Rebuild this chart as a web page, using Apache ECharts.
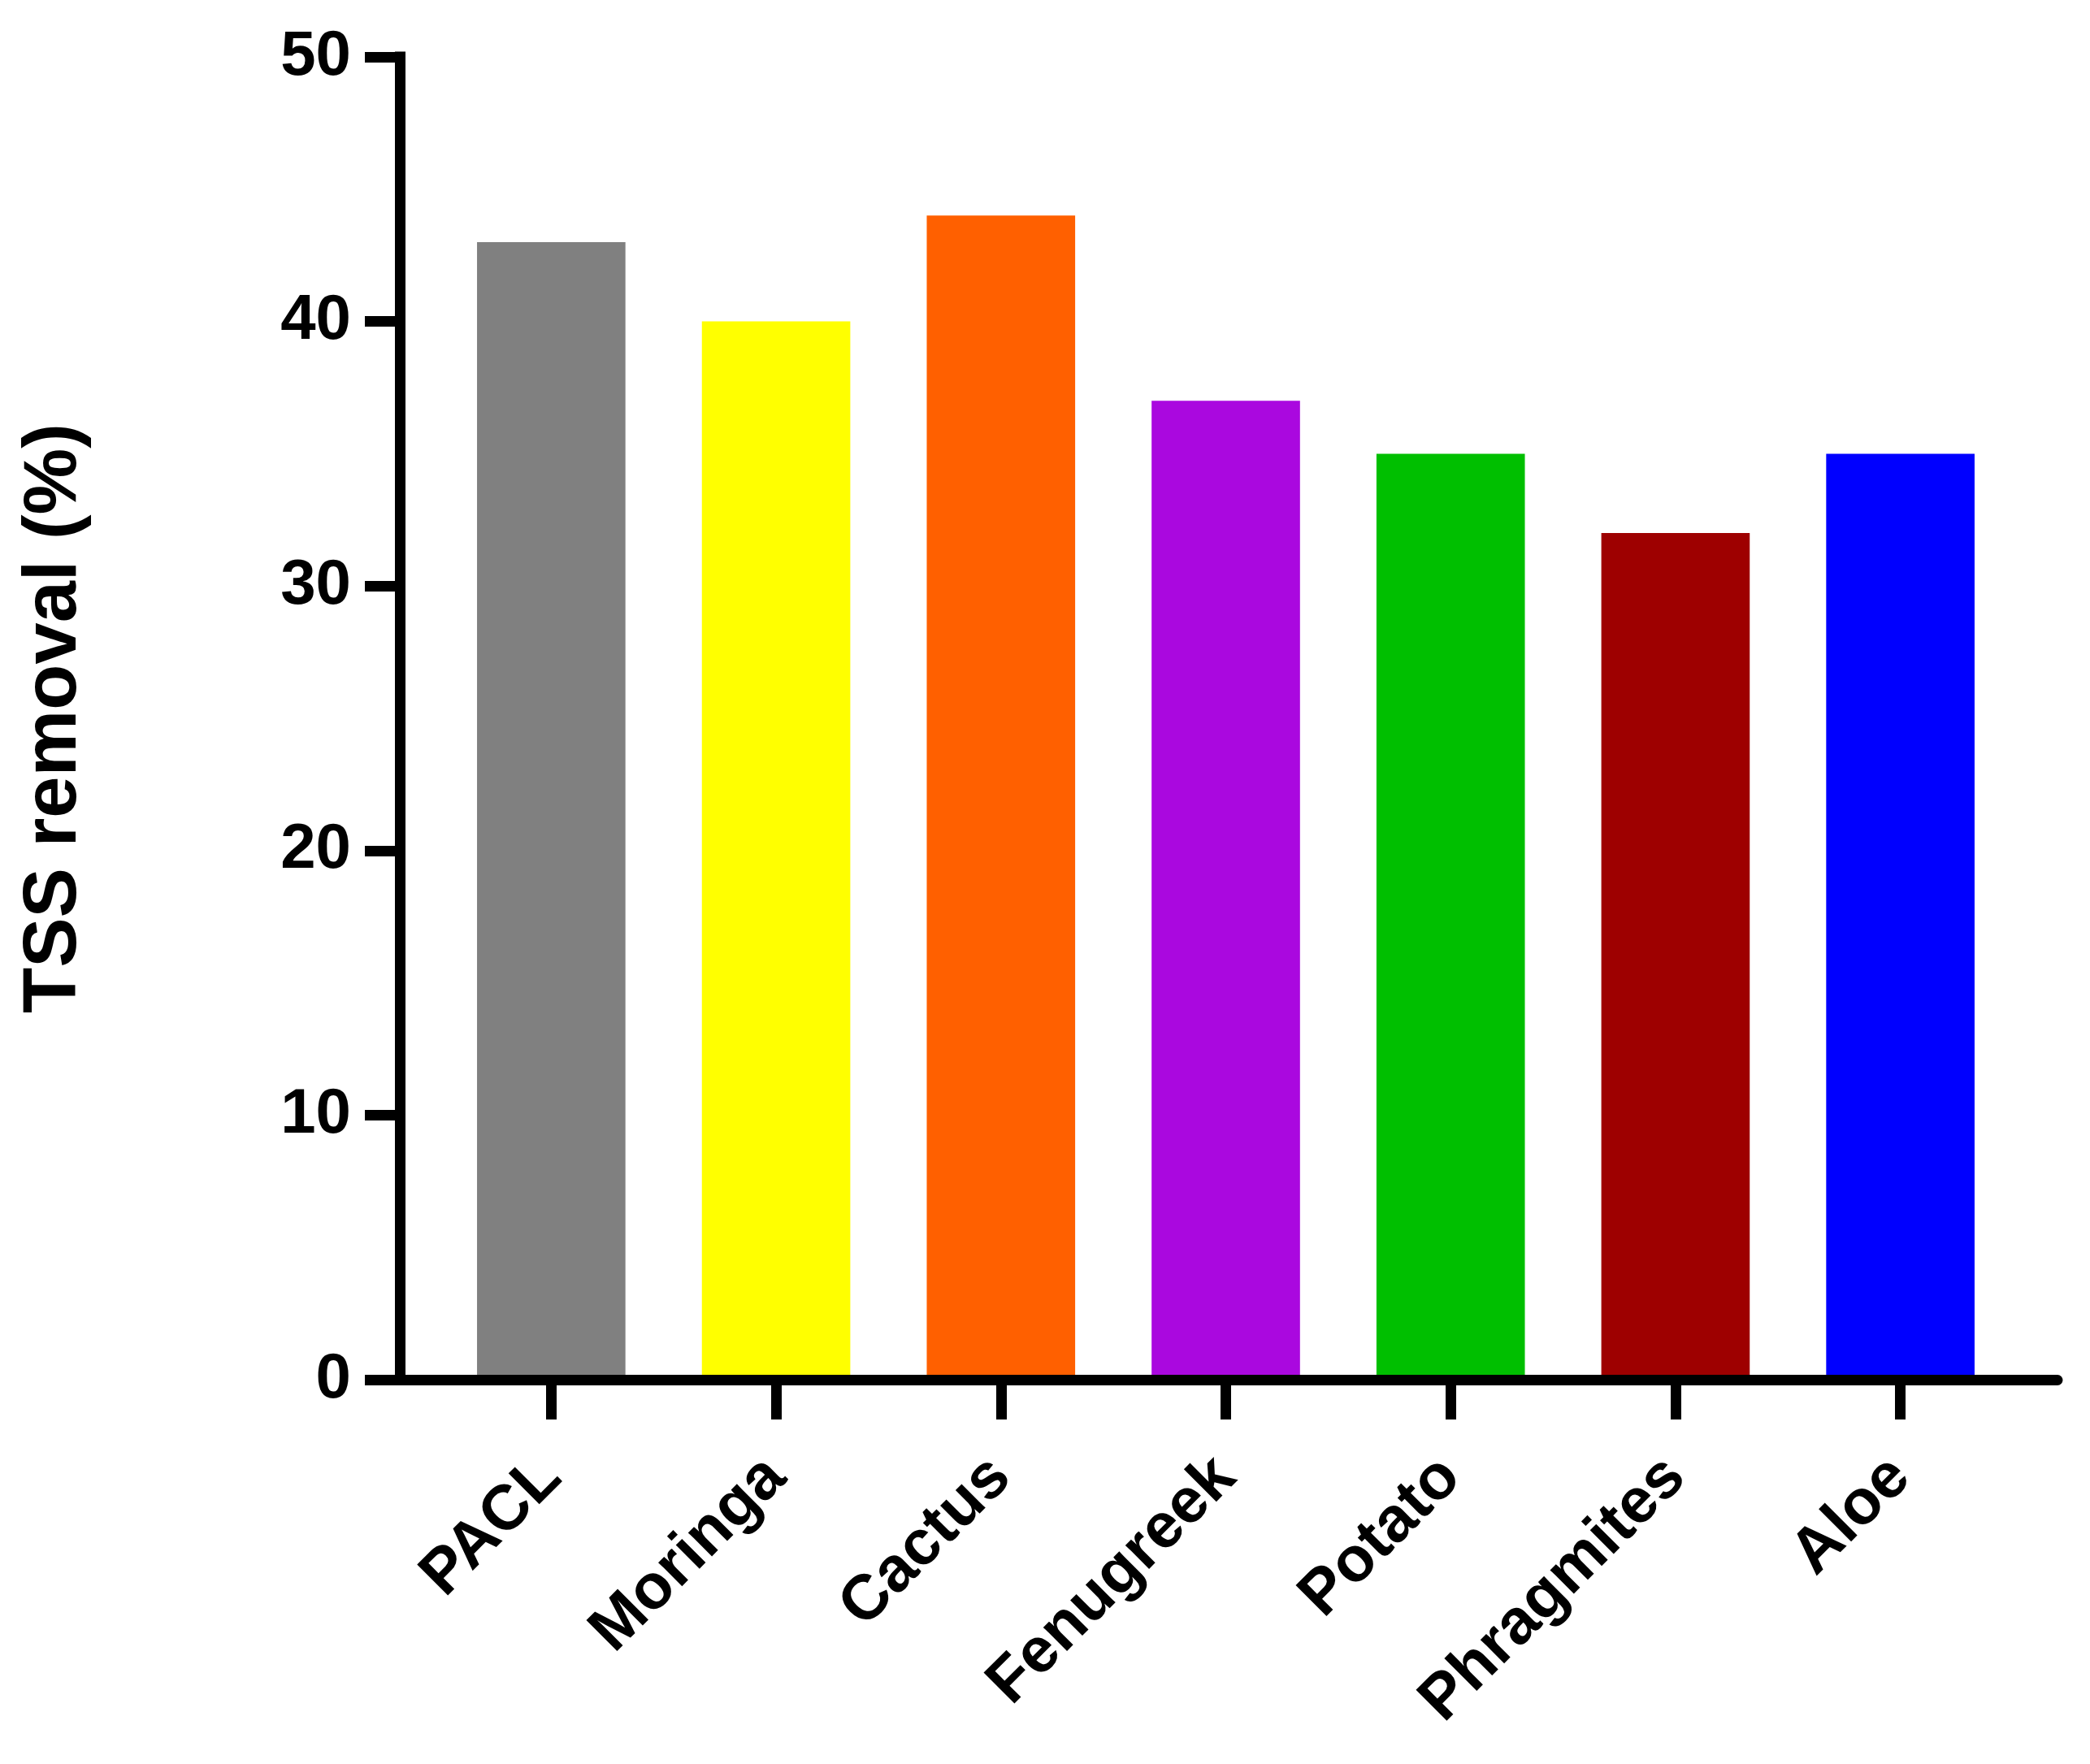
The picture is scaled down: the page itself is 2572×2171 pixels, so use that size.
<!DOCTYPE html>
<html>
<head>
<meta charset="utf-8">
<script src="https://cdn.jsdelivr.net/npm/echarts@6/dist/echarts.min.js"></script>
<style>
  html, body { margin: 0; padding: 0; background: #ffffff; }
  #chart { width: 2572px; height: 2171px; }
</style>
</head>
<body>
<div id="chart"></div>
<script>
const categories = ["PACL", "Moringa", "Cactus", "Fenugreek", "Potato", "Phragmites", "Aloe"];
const tssRemoval = [43, 40, 44, 37, 35, 32, 35];
const barColors = ["#808080", "#FFFF00", "#FF6000", "#AA08DF", "#00BF00", "#9E0000", "#0000FF"];
const yTicks = [0, 10, 20, 30, 40, 50];
const yAxisTitle = "TSS removal (%)";

const FONT = '"Liberation Sans", Arial, Helvetica, sans-serif';
const chart = echarts.init(document.getElementById('chart'), null, { renderer: 'canvas' });

const option = {
  backgroundColor: '#ffffff',
  animation: false,
  grid: [
    { left: 540, width: 1937, top: 70, bottom: 473, containLabel: false, outerBoundsMode: 'none' },
    { left: 492, right: 40, top: 70, bottom: 473, containLabel: false, outerBoundsMode: 'none' }
  ],
  xAxis: [
    {
      gridIndex: 0,
      type: 'category',
      data: categories,
      boundaryGap: true,
      axisLine: { show: false },
      axisTick: { show: true, alignWithLabel: true, length: 49, lineStyle: { color: '#000', width: 13 } },
      axisLabel: {
        rotate: 45, margin: 108, color: '#000',
        fontFamily: FONT, fontWeight: 'bold', fontSize: 78, interval: 0
      },
      splitLine: { show: false },
      z: 5
    },
    {
      gridIndex: 1,
      type: 'value',
      min: 0, max: 1,
      axisLine: { show: true, onZero: false, lineStyle: { color: '#000', width: 13 } },
      axisTick: { show: false },
      axisLabel: { show: false },
      splitLine: { show: false },
      z: 6
    }
  ],
  yAxis: [
    {
      gridIndex: 0,
      type: 'value',
      min: yTicks[0], max: yTicks[yTicks.length - 1], interval: 10,
      show: false
    },
    {
      gridIndex: 1,
      type: 'value',
      min: yTicks[0], max: yTicks[yTicks.length - 1], interval: 10,
      name: yAxisTitle,
      nameLocation: 'middle',
      nameRotate: 90,
      nameGap: 378,
      nameTextStyle: { color: '#000', fontFamily: FONT, fontWeight: 'bold', fontSize: 92 },
      axisLine: { show: true, lineStyle: { color: '#000', width: 13, cap: 'square' } },
      axisTick: { show: true, length: 43, lineStyle: { color: '#000', width: 13 } },
      axisLabel: {
        margin: 60, color: '#000',
        fontFamily: FONT, fontWeight: 'bold', fontSize: 78,
        formatter: v => (yTicks.indexOf(v) >= 0 ? String(v) : '')
      },
      splitLine: { show: false },
      z: 6
    }
  ],
  series: [
    {
      type: 'bar',
      xAxisIndex: 0,
      yAxisIndex: 0,
      barCategoryGap: '34%',
      data: tssRemoval.map((v, i) => ({ value: v, itemStyle: { color: barColors[i] } })),
      z: 2
    }
  ]
};

chart.setOption(option);
</script>
</body>
</html>
